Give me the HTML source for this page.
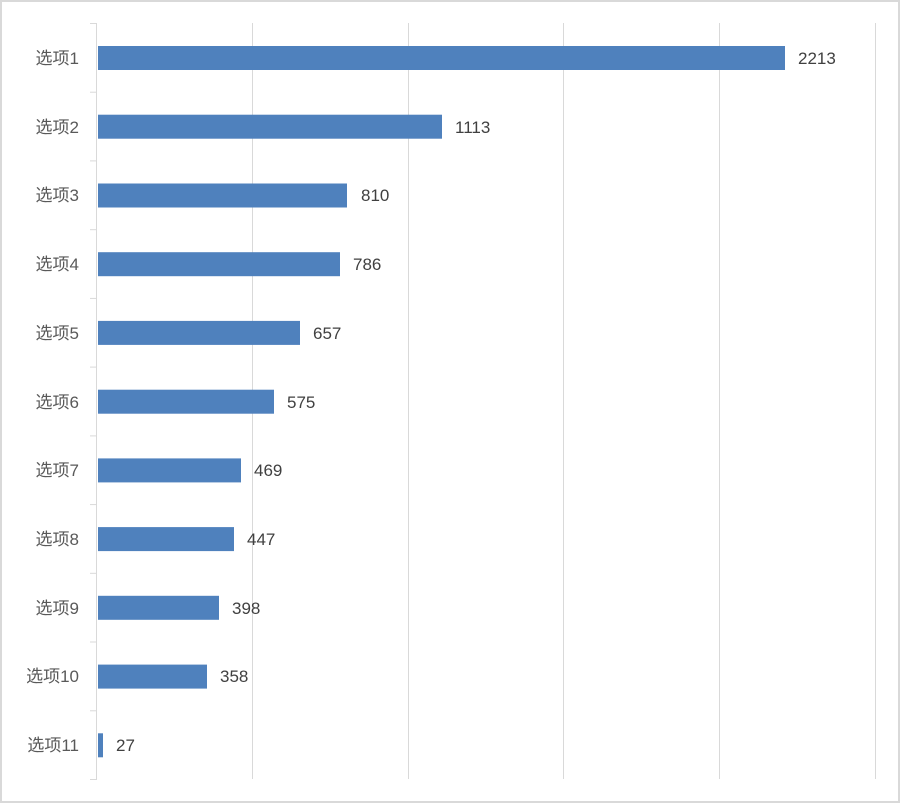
<!DOCTYPE html>
<html><head><meta charset="utf-8"><style>
html,body{margin:0;padding:0;background:#fff}
svg text{font-family:"Liberation Sans","Noto Sans CJK SC",sans-serif;font-size:17px;fill:#404040}
svg .cat text{fill:#595959}
</style></head><body>
<svg width="900" height="803" xmlns="http://www.w3.org/2000/svg">
<rect x="1" y="1" width="898" height="801" fill="#fff" stroke="#d9d9d9" stroke-width="2"/>
<g stroke="#d9d9d9" stroke-width="1">
<line x1="252.5" y1="23" x2="252.5" y2="779"/>
<line x1="408.5" y1="23" x2="408.5" y2="779"/>
<line x1="563.5" y1="23" x2="563.5" y2="779"/>
<line x1="719.5" y1="23" x2="719.5" y2="779"/>
<line x1="875.5" y1="23" x2="875.5" y2="779"/>
<line x1="96.5" y1="23" x2="96.5" y2="779"/>
<line x1="90" y1="23.5" x2="97" y2="23.5"/>
<line x1="90" y1="92.2" x2="97" y2="92.2"/>
<line x1="90" y1="160.9" x2="97" y2="160.9"/>
<line x1="90" y1="229.7" x2="97" y2="229.7"/>
<line x1="90" y1="298.4" x2="97" y2="298.4"/>
<line x1="90" y1="367.1" x2="97" y2="367.1"/>
<line x1="90" y1="435.9" x2="97" y2="435.9"/>
<line x1="90" y1="504.6" x2="97" y2="504.6"/>
<line x1="90" y1="573.3" x2="97" y2="573.3"/>
<line x1="90" y1="642" x2="97" y2="642"/>
<line x1="90" y1="710.8" x2="97" y2="710.8"/>
<line x1="90" y1="779.5" x2="97" y2="779.5"/>
</g>
<g fill="#4f81bd">
<rect x="98" y="46" width="687" height="24"/>
<rect x="98" y="114.7" width="344" height="24"/>
<rect x="98" y="183.5" width="249" height="24"/>
<rect x="98" y="252.2" width="242" height="24"/>
<rect x="98" y="320.9" width="202" height="24"/>
<rect x="98" y="389.7" width="176" height="24"/>
<rect x="98" y="458.4" width="143" height="24"/>
<rect x="98" y="527.1" width="136" height="24"/>
<rect x="98" y="595.8" width="121" height="24"/>
<rect x="98" y="664.6" width="109" height="24"/>
<rect x="98" y="733.3" width="5" height="24"/>
</g>
<g text-anchor="end" class="cat">
<text x="79" y="64">选项1</text>
<text x="79" y="133">选项2</text>
<text x="79" y="201">选项3</text>
<text x="79" y="270">选项4</text>
<text x="79" y="339">选项5</text>
<text x="79" y="408">选项6</text>
<text x="79" y="476">选项7</text>
<text x="79" y="545">选项8</text>
<text x="79" y="614">选项9</text>
<text x="79" y="682">选项10</text>
<text x="79" y="751">选项11</text>
</g>
<g>
<text x="798" y="64">2213</text>
<text x="455" y="133">1113</text>
<text x="361" y="201">810</text>
<text x="353" y="270">786</text>
<text x="313" y="339">657</text>
<text x="287" y="408">575</text>
<text x="254" y="476">469</text>
<text x="247" y="545">447</text>
<text x="232" y="614">398</text>
<text x="220" y="682">358</text>
<text x="116" y="751">27</text>
</g>
</svg>
</body></html>
